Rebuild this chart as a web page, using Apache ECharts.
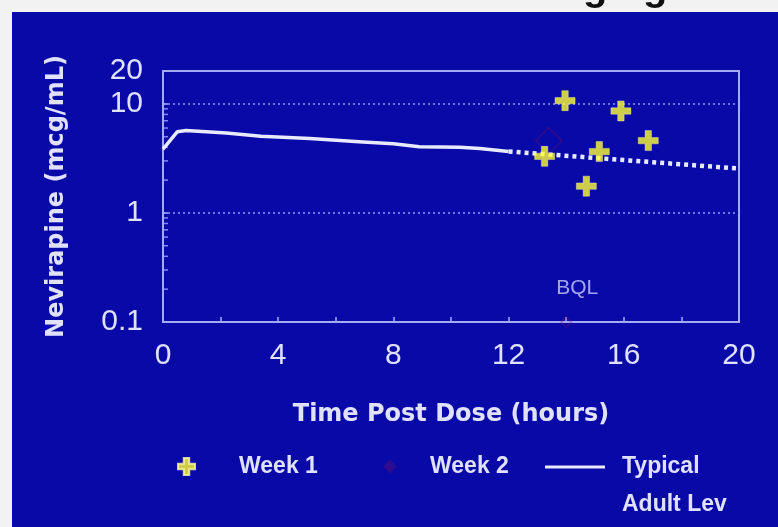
<!DOCTYPE html>
<html>
<head>
<meta charset="utf-8">
<script src="https://cdn.jsdelivr.net/npm/echarts@6/dist/echarts.min.js"></script>
<style>
html,body{margin:0;padding:0;background:#f2f2f2;}
#c{width:778px;height:527px;}
</style>
</head>
<body>
<div id="c"></div>
<script>
// ---- data ----
const xTickLabels = [0, 4, 8, 12, 16, 20];
const yTickLabels = [0.1, 1, 10, 20];
const week1Hours = [13.96, 15.9, 16.85, 13.25, 15.15, 14.7];
const week1Conc  = [10.7, 8.6, 4.6, 3.3, 3.65, 1.76];
const week2Hours = [13.4, 14.0];
const week2Conc  = [4.6, 0.1];
const typicalHours = [0, 0.5, 0.8, 2.2, 3.4, 5.1, 6.8, 8.0, 8.9, 10.3, 11, 12];
const typicalConc  = [3.85, 5.55, 5.7, 5.4, 5.05, 4.8, 4.5, 4.3, 4.05, 4.0, 3.9, 3.66];
const extrapHours = [12, 14.6, 20];
const extrapConc  = [3.66, 3.25, 2.55];
const minorTickValues = [0.2,0.3,0.4,0.5,0.6,0.7,0.8,0.9,2,3,4,5,6,7,8,9];
const bqlLabel = 'BQL';

const zip = (a, b) => a.map((v, i) => [v, b[i]]);
const AX = '#a4aaf8';
const TXT = '#dfe1ff';
const BLUE = '#0909a8';
const W2 = 'rgba(120,20,90,0.35)';
const plus = 'path://M3.4,0H6.6V3.4H10V6.6H6.6V10H3.4V6.6H0V3.4H3.4Z';
const legendText = {color: TXT, fontSize: 23, fontWeight: 'bold', fontFamily: 'Liberation Sans'};

const chart = echarts.init(document.getElementById('c'));
const week2Data = zip(week2Hours, week2Conc).map(p => {
  if (p[1] <= 0.1) {
    return {value: p, symbolSize: 10, label: {show: true, formatter: bqlLabel, position: 'inside',
      offset: [11, -34], color: '#c9cdff', fontSize: 21, fontFamily: 'Liberation Sans'}};
  }
  return {value: p};
});

chart.setOption({
  backgroundColor: BLUE,
  animation: false,
  graphic: [
    {type: 'rect', shape: {x: 0, y: 0, width: 12, height: 527}, style: {fill: '#f2f2f2'}, z: 100},
    {type: 'rect', shape: {x: 0, y: 0, width: 778, height: 12}, style: {fill: '#f2f2f2'}, z: 100},
    {type: 'text', x: 583, y: -11, z: 101, style: {text: 'ging', fill: '#111', font: 'bold 40px "Liberation Sans"', verticalAlign: 'middle'}}
  ],
  grid: {left: 163, right: 39, top: 71, bottom: 205, show: true, borderColor: AX, borderWidth: 2, backgroundColor: 'transparent'},
  legend: [
    {data: [{name: 'Week 1', icon: plus, itemStyle: {color: '#ffff33'}}], left: 177, top: 455, padding: 0,
      itemWidth: 17, itemHeight: 17, textStyle: Object.assign({padding: [0, 0, 0, 39]}, legendText)},
    {data: [{name: 'Week 2', icon: 'diamond', itemStyle: {color: 'rgba(120,20,90,0.4)', borderWidth: 0}}], left: 383, top: 455, padding: 0,
      itemWidth: 14, itemHeight: 14, textStyle: Object.assign({padding: [0, 0, 0, 28]}, legendText)},
    {data: [{name: 'Typical', icon: 'path://M0,0H60V3H0Z', itemStyle: {color: '#e8eaff'}}], left: 545, top: 410, padding: 0,
      itemWidth: 60, itemHeight: 14,
      formatter: () => '\nTypical\nAdult Lev',
      textStyle: Object.assign({}, legendText, {lineHeight: 38, padding: [0, 0, 0, 12]})}
  ],
  xAxis: {
    type: 'value', min: 0, max: 20, interval: 4,
    name: 'Time Post Dose (hours)', nameLocation: 'middle', nameGap: 81,
    nameTextStyle: {color: TXT, fontSize: 24, fontWeight: 'bold', fontFamily: 'DejaVu Sans'},
    axisLine: {lineStyle: {color: AX, width: 2}},
    axisTick: {show: true, inside: true, length: 5, lineStyle: {color: AX, width: 1.5}},
    minorTick: {show: true, splitNumber: 2, length: 5, lineStyle: {color: AX, width: 1.5}},
    axisLabel: {color: TXT, fontSize: 30, fontFamily: 'Liberation Sans', margin: 19,
      formatter: v => xTickLabels.includes(v) ? String(v) : ''},
    splitLine: {show: false}
  },
  yAxis: {
    type: 'log', logBase: 10, min: 0.1, max: 20,
    name: 'Nevirapine (mcg/mL)', nameLocation: 'middle', nameGap: 94,
    nameTextStyle: {color: TXT, fontSize: 24, fontWeight: 'bold', fontFamily: 'DejaVu Sans'},
    axisLine: {lineStyle: {color: AX, width: 2}},
    axisTick: {show: true, inside: true, length: 5, lineStyle: {color: AX, width: 1.5}},
    axisLabel: {color: TXT, fontSize: 30, fontFamily: 'Liberation Sans', margin: 20,
      showMinLabel: true, showMaxLabel: true, hideOverlap: false,
      formatter: v => { const r = yTickLabels.find(t => Math.abs(t - v) / t < 0.01); return r === undefined ? '' : String(r); }},
    splitLine: {show: true, showMinLine: false, showMaxLine: false, lineStyle: {color: '#8f96f2', width: 1.5, type: [2, 3]}}
  },
  series: [
    {name: 'minor', type: 'scatter', silent: true, clip: false, symbol: 'rect', symbolSize: [5, 1.5], symbolOffset: [2.5, 0],
      itemStyle: {color: AX}, data: minorTickValues.map(v => [0, v]), z: 3},
    {name: 'Typical', type: 'line', showSymbol: false, symbol: 'none', data: zip(typicalHours, typicalConc),
      lineStyle: {color: '#e8eaff', width: 3.5}, itemStyle: {color: '#e8eaff'}, z: 4},
    {name: 'Typical', type: 'line', showSymbol: false, symbol: 'none', data: zip(extrapHours, extrapConc),
      lineStyle: {color: '#e8eaff', width: 4.5, type: [4, 4], cap: 'butt'}, itemStyle: {color: '#e8eaff'}, z: 4},
    {name: 'Week 2', type: 'scatter', symbol: 'diamond', symbolSize: 26, clip: false, data: week2Data,
      itemStyle: {color: 'rgba(0,0,0,0)', borderColor: W2, borderWidth: 2}, z: 5},
    {name: 'Week 1', type: 'scatter', symbol: plus, symbolSize: 20, data: zip(week1Hours, week1Conc),
      itemStyle: {color: '#ffff33', borderColor: '#ffffa0', borderWidth: 0.5}, z: 6}
  ]
});
</script>
</body>
</html>
